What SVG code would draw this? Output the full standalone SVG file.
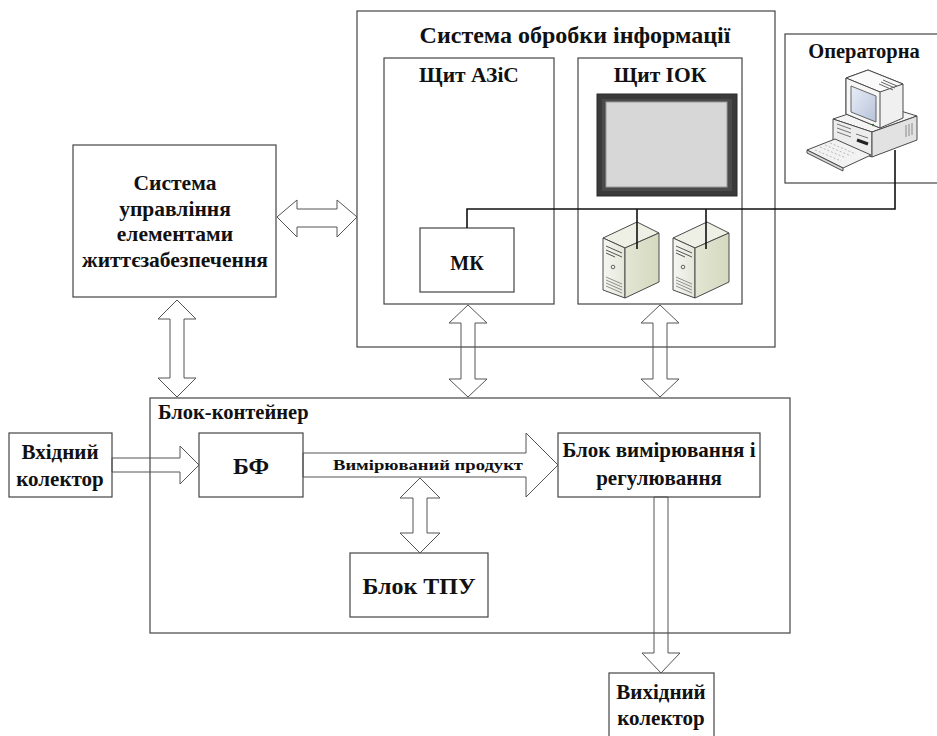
<svg xmlns="http://www.w3.org/2000/svg" width="937" height="736" viewBox="0 0 937 736">
  <defs>
    <style>
      .box { fill: #ffffff; stroke: #444444; stroke-width: 1.2; }
      .frame { fill: none; stroke: #444444; stroke-width: 1.2; }
      .arrow { fill: none; stroke: #555555; stroke-width: 1; stroke-linejoin: miter; }
      .wire { fill: none; stroke: #111111; stroke-width: 1.6; }
      .t { font-family: "Liberation Serif", "Times New Roman", serif; font-weight: bold; fill: #111111; text-anchor: middle; }
      .ico { stroke: #4a4a4a; stroke-width: 1; stroke-linejoin: round; }
    </style>
    <linearGradient id="screenGrad" x1="0" y1="0" x2="1" y2="1">
      <stop offset="0" stop-color="#e9eef8"/>
      <stop offset="1" stop-color="#b7c3d9"/>
    </linearGradient>
    <linearGradient id="towerSide" x1="0" y1="0" x2="1" y2="0">
      <stop offset="0" stop-color="#e3e6d3"/>
      <stop offset="1" stop-color="#d4d9bf"/>
    </linearGradient>
    <linearGradient id="towerFront" x1="0" y1="0" x2="1" y2="0">
      <stop offset="0" stop-color="#f6f6f1"/>
      <stop offset="1" stop-color="#e4e6da"/>
    </linearGradient>
    <!-- server tower icon, drawn at origin (top-left corner of bounding box) -->
    <g id="tower">
      <polygon class="ico" points="0,16 34,0 56,11 22,26" fill="#eef0e6"/>
      <polygon class="ico" points="0,16 22,26 22,76 0,68" fill="url(#towerFront)"/>
      <polygon class="ico" points="22,26 56,11 56,60 22,76" fill="url(#towerSide)"/>
      <path d="M3,24 L19,31 M3,28 L19,35 M3,31 L12,35" stroke="#555" stroke-width="1" fill="none"/>
      <circle cx="10" cy="45" r="1.8" fill="none" stroke="#555" stroke-width="0.9"/>
      <path d="M3,55 L19,62 M3,58 L19,65 M3,61 L19,68 M3,64 L19,71" stroke="#777" stroke-width="0.8" fill="none"/>
    </g>
  </defs>

  <rect width="937" height="736" fill="#ffffff"/>

  <!-- information processing system -->
  <g id="processing-system">
    <rect class="box" x="357" y="11" width="418" height="336"/>
    <text class="t" x="575" y="43" font-size="24">Система обробки інформації</text>
  </g>

  <g id="azis-panel">
    <rect class="box" x="384" y="58" width="170" height="246"/>
    <text class="t" x="469" y="82" font-size="21.5">Щит АЗіС</text>
  </g>

  <g id="iok-panel">
    <rect class="box" x="578" y="58" width="164" height="246"/>
    <text class="t" x="660" y="82" font-size="21.5">Щит ІОК</text>
    <!-- wall display -->
    <rect x="597" y="94" width="140" height="102" fill="#3a3a3a" stroke="#2a2a2a" stroke-width="1"/>
    <rect x="602" y="99" width="130" height="92" fill="#4a4a4a"/>
    <rect x="606" y="102" width="121" height="85" fill="#d7d7d7" stroke="#9a9a9a" stroke-width="1"/>
    <!-- servers -->
    <use href="#tower" x="603" y="222"/>
    <use href="#tower" x="673" y="222"/>
  </g>

  <g id="mk">
    <rect class="box" x="420" y="228" width="94" height="64"/>
    <text class="t" x="467" y="270" font-size="20">МК</text>
  </g>

  <g id="operator-room">
    <rect class="box" x="785" y="34" width="160" height="149"/>
    <text class="t" x="864" y="58" font-size="20.5">Операторна</text>
    <!-- desktop computer -->
    <g>
      <!-- base unit -->
      <polygon class="ico" points="833,119 878,104 917,116 872,132" fill="#f4f4f4"/>
      <polygon class="ico" points="833,119 872,132 872,157 833,143" fill="#ececec"/>
      <polygon class="ico" points="872,132 917,116 917,140 872,157" fill="#e2e2e2"/>
      <path d="M837,124 L851,129 M837,128 L851,133 M837,132 L851,137" stroke="#666" stroke-width="0.9"/>
      <path d="M857,140 L868,144" stroke="#222" stroke-width="3"/>
      <path d="M856,134 L868,138" stroke="#666" stroke-width="0.9"/>
      <path d="M906,125 L906,137 M909,124 L909,136 M912,123 L912,135" stroke="#777" stroke-width="0.8"/>
      <!-- monitor -->
      <polygon class="ico" points="846,78 868,70 903,84 903,118 880,128 846,114" fill="#f0f0f0"/>
      <polygon class="ico" points="868,70 903,84 880,92 846,78" fill="#fafafa"/>
      <polygon class="ico" points="846,78 880,92 880,128 846,114" fill="#f6f6f6"/>
      <polygon points="851,86 876,96 876,122 851,112" fill="url(#screenGrad)" stroke="#555" stroke-width="0.9"/>
      <path d="M883,80 L897,86 M881,82 L895,88 M879,84 L893,90" stroke="#666" stroke-width="1"/>
      <circle cx="873" cy="125" r="1.2" fill="#3a7a3a"/>
      <!-- keyboard -->
      <polygon class="ico" points="807,150 835,139 871,155 843,168" fill="#f2f2f2"/>
      <polygon class="ico" points="807,150 843,168 843,171 807,153" fill="#d8d8d8"/>
      <path d="M815,150 L841,161 M820,147 L846,158 M825,145 L851,156 M830,143 L856,154" stroke="#aaa" stroke-width="0.8" stroke-dasharray="2,2"/>
    </g>
  </g>

  <g id="life-support">
    <rect class="box" x="73" y="145" width="203" height="152"/>
    <text class="t" x="175" y="190" font-size="21.5">Система</text>
    <text class="t" x="175" y="216" font-size="21.5">управління</text>
    <text class="t" x="175" y="241" font-size="21.5">елементами</text>
    <text class="t" x="175" y="267" font-size="21.5">життєзабезпечення</text>
  </g>

  <g id="container">
    <rect class="frame" x="150" y="398" width="640" height="235"/>
    <text class="t" x="158" y="419" font-size="20.5" style="text-anchor:start">Блок-контейнер</text>
  </g>

  <g id="inlet">
    <rect class="box" x="9" y="433" width="103" height="64"/>
    <text class="t" x="60" y="459" font-size="21">Вхідний</text>
    <text class="t" x="60" y="486" font-size="21">колектор</text>
  </g>

  <g id="bf">
    <rect class="box" x="199" y="433" width="104" height="64"/>
    <text class="t" x="251" y="474" font-size="24">БФ</text>
  </g>

  <g id="measure-block">
    <rect class="box" x="558" y="433" width="202" height="64"/>
    <text class="t" x="659" y="457" font-size="21">Блок вимірювання і</text>
    <text class="t" x="659" y="485" font-size="21">регулювання</text>
  </g>

  <g id="tpu">
    <rect class="box" x="350" y="553" width="138" height="64"/>
    <text class="t" x="419" y="594" font-size="24">Блок ТПУ</text>
  </g>

  <g id="outlet">
    <rect class="box" x="609" y="673" width="105" height="64"/>
    <text class="t" x="661" y="699" font-size="21">Вихідний</text>
    <text class="t" x="661" y="725" font-size="21">колектор</text>
  </g>

  <g id="connectors">
    <!-- data wiring -->
    <path class="wire" d="M467,228 V209 H895 V150"/>
    <path class="wire" d="M637,209 V249"/>
    <path class="wire" d="M706,209 V249"/>
    <!-- bidirectional block arrows -->
    <polygon class="arrow" points="277,217 297,200 297,209 337,209 337,200 357,217 337,237 337,227 297,227 297,237"/>
    <polygon class="arrow" points="177,300 196,319 184,319 184,378 196,378 177,397 158,378 170,378 170,319 158,319"/>
    <polygon class="arrow" points="468,305 487,323 475,323 475,379 487,379 468,397 449,379 461,379 461,323 449,323"/>
    <polygon class="arrow" points="660,305 679,323 667,323 667,379 679,379 660,397 641,379 653,379 653,323 641,323"/>
    <polygon class="arrow" points="420,478 440,498 427,498 427,533 440,533 420,553 400,533 413,533 413,498 400,498"/>
    <!-- product flow -->
    <polygon class="arrow" points="112,458 180,458 180,446 199,465 180,484 180,472 112,472"/>
    <polygon class="arrow" points="303,453 526,453 526,433 558,465 526,497 526,477 303,477"/>
    <text class="t" x="333" y="470" font-size="15.5" style="text-anchor:start" textLength="190" lengthAdjust="spacingAndGlyphs">Вимірюваний  продукт</text>
    <polygon class="arrow" points="654,497 668,497 668,653 680,653 661,673 642,653 654,653"/>
  </g>
</svg>
